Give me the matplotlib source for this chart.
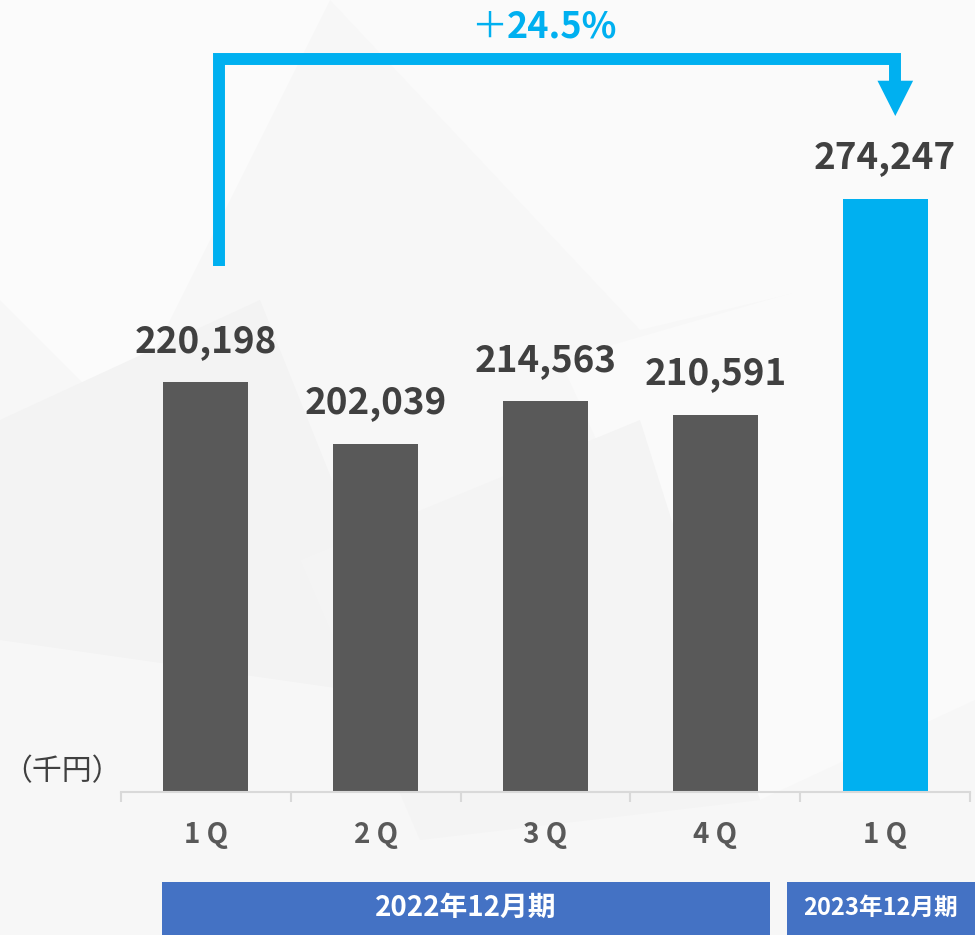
import matplotlib.pyplot as plt
from matplotlib.patches import Polygon, Rectangle

plt.rcParams['font.family'] = ['Noto Sans CJK JP', 'DejaVu Sans']

# data
quarters = ['1 Q', '2 Q', '3 Q', '4 Q', '1 Q']
sales = [220198, 202039, 214563, 210591, 274247]
bar_colors = ['#595959', '#595959', '#595959', '#595959', '#00B0F0']
periods = ['2022年12月期', '2023年12月期']
growth_label = '24.5%'
unit_label = '（千円）'

W, H = 975, 935
fig = plt.figure(figsize=(W / 100, H / 100), dpi=100)
fig.patch.set_facecolor('#F7F7F7')


def fx(px):
    return px / W


def fy(py):
    return 1 - py / H


# faint geometric background
bg_shapes = [
    ([(0, 0), (330, 0), (120, 420), (0, 300)], '#FBFBFB'),
    ([(330, 0), (975, 0), (975, 250), (640, 330)], '#FAFAFA'),
    ([(0, 420), (260, 300), (420, 700), (0, 640)], '#F3F3F3'),
    ([(560, 360), (975, 240), (975, 700), (760, 800)], '#FAFAFA'),
    ([(300, 560), (640, 420), (760, 800), (420, 840)], '#F4F4F4'),
]
for pts, c in bg_shapes:
    fig.patches.append(Polygon([(fx(x), fy(y)) for x, y in pts], closed=True,
                               transform=fig.transFigure, fc=c, ec='none', zorder=-5))

base_px = 792
ax = fig.add_axes([fx(121), fy(base_px), fx(970) - fx(121), base_px / H])
ax.patch.set_alpha(0)
ax.set_zorder(2)

x = list(range(len(sales)))
ax.bar(x, sales, width=0.5, color=bar_colors, zorder=2)
ax.set_xlim(-0.5, len(sales) - 0.5)
ax.set_ylim(99400, 332900)

for xi, v in zip(x, sales):
    ax.annotate(f'{v:,}', (xi, v), xytext=(0, 22), textcoords='offset points',
                ha='center', va='baseline', fontsize=26.5, fontweight='bold',
                color='#404040')

for s in ['top', 'right', 'left']:
    ax.spines[s].set_visible(False)
ax.spines['bottom'].set_color('#D9D9D9')
ax.spines['bottom'].set_linewidth(1.5)
ax.set_yticks([])
ax.set_xticks([i - 0.5 for i in range(len(sales) + 1)])
ax.set_xticklabels([])
ax.tick_params(axis='x', length=7, width=1.5, color='#D9D9D9')
for xi, q in zip(x, quarters):
    ax.text(xi, -43 / base_px, q, transform=ax.get_xaxis_transform(), ha='center',
            va='center', fontsize=20, fontweight='bold', color='#595959')

# growth arrow (data coordinates)
arrow_col = '#00B0F0'
y_top = 315500
ax.plot([0.078, 0.078, 4.06, 4.06], [254600, y_top, y_top, 309000],
        color=arrow_col, lw=8.6, solid_joinstyle='miter', solid_capstyle='butt',
        clip_on=False, zorder=3)
ax.add_patch(Polygon([(4.06 - 0.105, 309100), (4.06 + 0.105, 309100), (4.06, 298700)],
                     closed=True, fc=arrow_col, ec='none', clip_on=False, zorder=3))

fig.text(fx(489), fy(38), '＋', ha='center', va='baseline', fontsize=26,
         color=arrow_col, fontweight='normal')
fig.text(fx(562), fy(38), growth_label, ha='center', va='baseline', fontsize=26,
         color=arrow_col, fontweight='bold')

# unit label
fig.text(fx(62), fy(772), unit_label, ha='center', va='center', fontsize=21.5,
         color='#404040')

# period boxes
boxes = [(162, 770, 20), (787, 975, 17)]
for (x0, x1, fs), label in zip(boxes, periods):
    fig.patches.append(Rectangle((fx(x0), 0), fx(x1) - fx(x0), fy(882),
                                 transform=fig.transFigure, fc='#4472C4', ec='none'))
    fig.text(fx((x0 + x1) / 2), fy(908), label, ha='center', va='center',
             fontsize=fs, fontweight='bold', color='white')

fig.savefig('out.png', dpi=100, facecolor=fig.get_facecolor())
